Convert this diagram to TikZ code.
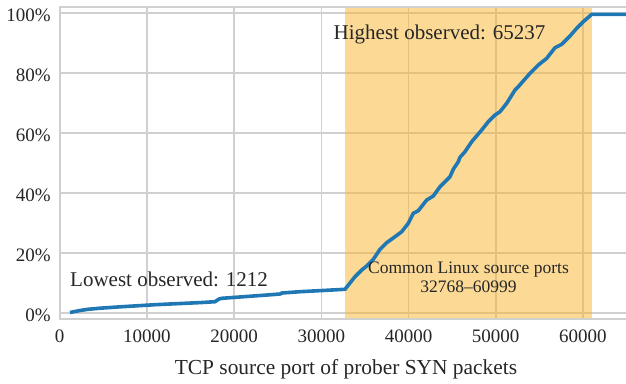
\documentclass[tikz,border=0pt]{standalone}
\usepackage{fontspec}
\setmainfont{Liberation Serif}
\definecolor{gridc}{RGB}{208,208,208}
\definecolor{shadec}{RGB}{249,181,45}
\definecolor{curvec}{RGB}{31,119,180}
\definecolor{txtc}{RGB}{38,38,38}
\tikzset{
  gridline/.style={draw=gridc,line width=1.6pt},
  spine/.style={draw=gridc,line width=1.8pt},
  ticklab/.style={text=txtc,font=\fontsize{19}{19}\selectfont,inner sep=0pt},
  annot/.style={text=txtc,font=\fontsize{21}{21}\selectfont,inner sep=0pt},
  annotsmall/.style={text=txtc,font=\fontsize{17.5}{19}\selectfont,inner sep=0pt,align=center},
  cdfline/.style={draw=curvec,line width=3.6pt,line join=round,line cap=butt}
}
\begin{document}
\begin{tikzpicture}[x=1pt,y=-1pt]
\useasboundingbox (0,0) rectangle (626,383);
% horizontal gridlines
\foreach \yy in {13,73,133,193,253,313} {\draw[gridline] (60,\yy) -- (626,\yy);}
% vertical gridlines
\foreach \xx in {146.9,234.1,321.3,408.5,495.7,582.9} {\draw[gridline] (\xx,7) -- (\xx,319);}
% shaded Linux range
\fill[shadec,opacity=0.5] (345.4,7) rectangle (591.6,319);
% spines
\draw[spine] (60,7) -- (60,319);
\draw[spine] (59.1,319) -- (626,319);
\draw[spine] (59.1,7) -- (626,7);
% curve
\begin{scope}
\clip (60,7) rectangle (626,319);
\draw[cdfline] (70,312.5) -- (80,310.5) -- (88,309.3) -- (100,308.2) -- (122,306.7) -- (155,304.7) -- (202,302.5) -- (215,301.7) -- (219,299) -- (222,298.3) -- (267,295) -- (280,294) -- (282,293) -- (300,291.7) -- (345,289.3) -- (355,276.7) -- (361.7,270) -- (366.7,266) -- (373.3,259.3) -- (380,249.3) -- (386.7,242.7) -- (395,236.7) -- (401.7,231.7) -- (408.3,223.3) -- (413.3,213.3) -- (418.3,210.7) -- (426.7,200) -- (433.3,196) -- (440,186.7) -- (450,176.7) -- (453.3,169.3) -- (458.3,161.7) -- (460,157.3) -- (465,151.7) -- (471.7,141.7) -- (481.7,130) -- (488.3,121.7) -- (495,115) -- (500,111.7) -- (506.7,103.3) -- (515,90) -- (518.3,86.7) -- (530,73.3) -- (538.3,65) -- (546.7,58.3) -- (555,47.7) -- (561.7,44.3) -- (570,36) -- (576.7,28.3) -- (583.3,21.7) -- (591.7,14.3) -- (630,14.3);
\end{scope}
% y tick labels
\node[ticklab,anchor=base east] (y100) at (51,21) {100\%};
\node[ticklab,anchor=base east] (y80) at (51,81) {80\%};
\node[ticklab,anchor=base east] (y60) at (51,141) {60\%};
\node[ticklab,anchor=base east] (y40) at (51,201) {40\%};
\node[ticklab,anchor=base east] (y20) at (51,261) {20\%};
\node[ticklab,anchor=base east] (y0) at (51,321) {0\%};
% x tick labels
\node[ticklab,anchor=base] (x0) at (59.7,342.7) {0};
\node[ticklab,anchor=base] (x1) at (146.9,342.7) {10000};
\node[ticklab,anchor=base] (x2) at (234.1,342.7) {20000};
\node[ticklab,anchor=base] (x3) at (321.3,342.7) {30000};
\node[ticklab,anchor=base] (x4) at (408.5,342.7) {40000};
\node[ticklab,anchor=base] (x5) at (495.7,342.7) {50000};
\node[ticklab,anchor=base] (x6) at (582.9,342.7) {60000};
% axis label
\node[ticklab,anchor=base,font=\fontsize{21.4}{21.4}\selectfont] (xlab) at (346,374) {TCP source port of prober SYN packets};
% annotations
\node[annot,anchor=base west] (low) at (70,286.5) {Lowest observed: 1212};
\node[annot,anchor=base west] (high) at (333.5,39.3) {Highest observed: 65237};
\node[annotsmall,anchor=base] (linux) at (468.5,292.3) {Common Linux source ports\\32768--60999};
\end{tikzpicture}
\end{document}
